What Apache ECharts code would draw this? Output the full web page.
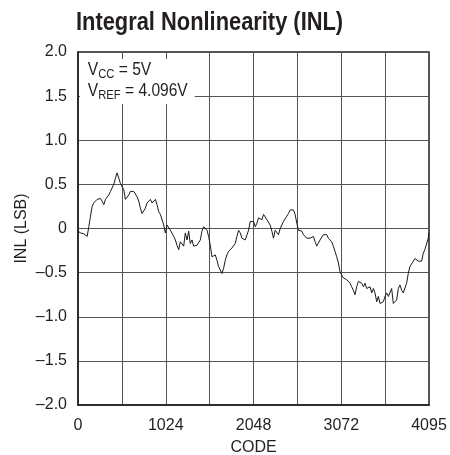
<!DOCTYPE html>
<html>
<head>
<meta charset="utf-8">
<script src="https://cdn.jsdelivr.net/npm/echarts@6/dist/echarts.min.js"></script>
<style>
  html, body { margin: 0; padding: 0; background: #fff; }
  #main { width: 450px; height: 455px; }
</style>
</head>
<body>
<div id="main"></div>
<script>
// INL curve: code and INL (LSB)
var codes = [0, 10,
  29, 48, 68, 87, 107, 126, 146, 165, 184, 204,
  223, 243, 262, 281, 301, 320, 340, 359, 379, 398,
  417, 437, 456, 476, 495, 515, 534, 553, 573, 592,
  611, 631, 650, 670, 689, 709, 728, 747, 767, 786,
  806, 825, 845, 864, 883, 903, 922, 942, 961, 981,
  1000, 1019, 1039, 1058, 1078, 1097, 1116, 1136, 1155, 1175,
  1194, 1213, 1233, 1252, 1272, 1291, 1310, 1330, 1349, 1369,
  1388, 1407, 1427, 1446, 1466, 1485, 1505, 1524, 1543, 1563,
  1582, 1602, 1621, 1640, 1660, 1679, 1699, 1718, 1737, 1757,
  1776, 1796, 1815, 1834, 1854, 1873, 1893, 1912, 1931, 1951,
  1971, 1990, 2009, 2029, 2048, 2068, 2087, 2106, 2126, 2145,
  2165, 2184, 2203, 2223, 2242, 2262, 2281, 2300, 2320, 2339,
  2359, 2378, 2397, 2417, 2436, 2456, 2475, 2494, 2514, 2533,
  2553, 2572, 2591, 2611, 2630, 2650, 2669, 2688, 2708, 2727,
  2747, 2766, 2785, 2805, 2824, 2844, 2863, 2882, 2902, 2921,
  2941, 2960, 2979, 2999, 3018, 3038, 3057, 3077, 3096, 3115,
  3135, 3154, 3174, 3193, 3212, 3232, 3251, 3271, 3290, 3309,
  3330, 3349, 3368, 3388, 3407, 3427, 3446, 3465, 3485, 3504,
  3524, 3543, 3562, 3582, 3601, 3621, 3640, 3659, 3679, 3698,
  3718, 3737, 3756, 3776, 3795, 3815, 3834, 3853, 3873, 3892,
  3912, 3931, 3950, 3970, 3989, 4009, 4028, 4047, 4067, 4086,
  4095];
var inl = [-0.03, -0.02,
  -0.05, -0.07, -0.06, -0.08, -0.09, 0.02, 0.14, 0.25, 0.29, 0.30,
  0.33, 0.31, 0.34, 0.31, 0.27, 0.33, 0.34, 0.38, 0.42, 0.44,
  0.50, 0.57, 0.63, 0.57, 0.51, 0.53, 0.44, 0.33, 0.31, 0.38,
  0.42, 0.40, 0.42, 0.40, 0.36, 0.31, 0.23, 0.17, 0.19, 0.23,
  0.29, 0.27, 0.33, 0.29, 0.31, 0.33, 0.27, 0.19, 0.16, 0.14,
  0.04, -0.05, 0.04, 0.02, -0.02, -0.03, -0.09, -0.13, -0.19, -0.24,
  -0.15, -0.13, -0.20, -0.05, -0.13, -0.03, -0.17, -0.13, -0.20, -0.22,
  -0.19, -0.17, -0.13, -0.03, 0.02, 0.04, -0.02, -0.09, -0.19, -0.32,
  -0.32, -0.30, -0.36, -0.43, -0.47, -0.51, -0.45, -0.36, -0.30, -0.26,
  -0.24, -0.22, -0.20, -0.17, -0.09, -0.02, -0.05, -0.11, -0.09, -0.13,
  -0.11, -0.02, 0.08, 0.10, 0.08, 0.02, 0.06, 0.12, 0.14, 0.10,
  0.16, 0.14, 0.10, 0.08, 0.04, -0.03, -0.11, -0.02, 0.00, -0.07,
  0.00, 0.04, 0.08, 0.10, 0.14, 0.17, 0.21, 0.23, 0.21, 0.16,
  0.06, -0.02, 0.00, -0.03, -0.07, -0.09, -0.11, -0.09, -0.11, -0.13,
  -0.09, -0.15, -0.20, -0.19, -0.13, -0.11, -0.07, -0.05, -0.07, -0.11,
  -0.11, -0.15, -0.20, -0.26, -0.32, -0.39, -0.49, -0.53, -0.56, -0.54,
  -0.58, -0.60, -0.62, -0.66, -0.70, -0.75, -0.66, -0.60, -0.58, -0.62,
  -0.66, -0.62, -0.68, -0.70, -0.66, -0.73, -0.68, -0.73, -0.83, -0.77,
  -0.85, -0.87, -0.83, -0.77, -0.73, -0.77, -0.75, -0.68, -0.85, -0.87,
  -0.81, -0.68, -0.64, -0.70, -0.73, -0.72, -0.62, -0.51, -0.43, -0.41,
  -0.37, -0.34, -0.36, -0.37, -0.39, -0.37, -0.28, -0.24, -0.22, -0.11,
  -0.05];
var xLabels = [0, 1024, 2048, 3072, 4095];

var font = "'Liberation Sans', Arial, sans-serif";
var ink = '#231f20';

var pts = [];
for (var i = 0; i < codes.length; i++) pts.push([codes[i], inl[i]]);

var myChart = echarts.init(document.getElementById('main'));
var option = {
  backgroundColor: '#fff',
  animation: false,
  grid: {
    left: 78, right: 21, top: 52, bottom: 50,
    outerBoundsMode: 'none',
    show: true, borderColor: ink, borderWidth: 1.5, backgroundColor: 'transparent'
  },
  xAxis: {
    type: 'value',
    min: 0, max: 4095, interval: 512,
    name: 'CODE', nameLocation: 'middle', nameGap: 35, nameMoveOverlap: false,
    nameTextStyle: { fontFamily: font, fontSize: 16, color: ink },
    axisLine: { show: true, onZero: false, lineStyle: { color: ink, width: 1.5 } },
    axisTick: { show: false },
    splitLine: { show: true, lineStyle: { color: '#555', width: 1 } },
    axisLabel: {
      fontFamily: font, fontSize: 16, color: ink, margin: 13,
      showMaxLabel: true,
      formatter: function (v) { return xLabels.indexOf(v) >= 0 ? String(v) : ''; }
    }
  },
  yAxis: {
    type: 'value',
    min: -2, max: 2, interval: 0.5,
    name: 'INL (LSB)', nameLocation: 'middle', nameGap: 48, nameMoveOverlap: false,
    nameTextStyle: { fontFamily: font, fontSize: 16, color: ink },
    axisLine: { show: true, onZero: false, lineStyle: { color: ink, width: 1.5 } },
    axisTick: { show: false },
    splitLine: { show: true, lineStyle: { color: '#555', width: 1 } },
    axisLabel: {
      fontFamily: font, fontSize: 16, color: ink, margin: 11,
      formatter: function (v) {
        if (v === 0) return '0';
        return (v < 0 ? '\u2013' : '') + Math.abs(v).toFixed(1);
      }
    }
  },
  graphic: [{
    // title, squeezed to look like a condensed face
    type: 'text',
    x: 76, y: 10,
    scaleX: 0.857,
    style: {
      text: 'Integral Nonlinearity (INL)',
      fontFamily: font, fontSize: 25.5, fontWeight: 'bold', fill: ink
    }
  }, {
    type: 'text',
    x: 80, y: 59,
    scaleX: 0.865,
    z: 10,
    style: {
      text: '{v|V}{s|CC}{v| = 5V}\n{v|V}{s|REF}{v| = 4.096V}',
      backgroundColor: '#fff',
      padding: [1, 8, 2, 9],
      rich: {
        v: { fontFamily: font, fontSize: 18, lineHeight: 21, fill: ink },
        s: { fontFamily: font, fontSize: 13, lineHeight: 14, padding: [7, 0, 0, 0], fill: ink }
      }
    }
  }],
  series: [{
    type: 'line',
    data: pts,
    showSymbol: false,
    symbol: 'none',
    lineStyle: { color: '#1a1a1a', width: 1 },
    z: 5
  }]
};
myChart.setOption(option);
</script>
</body>
</html>
